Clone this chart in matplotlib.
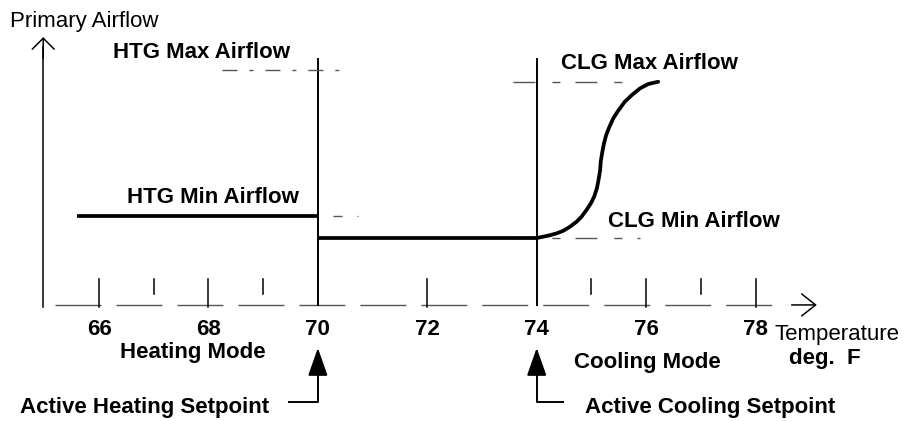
import matplotlib
matplotlib.use('Agg')
import matplotlib.pyplot as plt

# temperature scale (deg F)
tick_temps = [66, 68, 70, 72, 74, 76, 78]
tick_labels = ['66', '68', '70', '72', '74', '76', '78']
major_ticks = [66, 68, 72, 76, 78]
minor_ticks = [67, 69, 75, 77]

heat_setpoint = 70
cool_setpoint = 74

# airflow levels (% of htg max)
htg_max = 100
htg_min = 38
clg_max = 95
clg_min = 28.5

# heating mode: flat at htg min up to the heating setpoint
heat_temps = [65.6, 70]
heat_flow = [38, 38]
# deadband: flat at clg min between setpoints
dead_temps = [70, 74]
dead_flow = [28.5, 28.5]
# cooling mode ramp
cool_temps = [74.00, 74.12, 74.24, 74.37, 74.49, 74.61, 74.73, 74.82,
              74.91, 74.99, 75.05, 75.10, 75.13, 75.16, 75.17, 75.20,
              75.23, 75.27, 75.33, 75.40, 75.49, 75.61, 75.74, 75.89,
              76.04, 76.22]
cool_flow = [28.5, 29.06, 29.66, 30.51, 31.62, 33.32, 35.45, 37.57,
             40.43, 43.26, 46.09, 49.66, 53.19, 57.45, 60.98, 65.23,
             68.81, 72.34, 75.87, 79.45, 82.68, 86.51, 89.36, 92.21,
             94.04, 95.0]

# layout stuff (data units)
XLIM = (64.19, 80.75)
YLIM = (-49.4, 129.8)
FS = 16
GREY = '#555555'


def main():
    plt.rcParams['font.family'] = ['Liberation Sans', 'DejaVu Sans']
    fig = plt.figure(figsize=(9.06, 4.21), dpi=100)
    ax = fig.add_axes([0, 0, 1, 1])
    ax.set_xlim(*XLIM)
    ax.set_ylim(*YLIM)
    ax.axis('off')

    # y axis with open arrow
    ax.plot([64.98, 64.98], [-0.8, 110], color='k', lw=1.1)
    ax.annotate('', xy=(64.98, 114), xytext=(64.98, 105),
                arrowprops=dict(arrowstyle='->,head_length=0.79,head_width=0.79',
                                lw=1.1, color='k', shrinkA=0, shrinkB=0))
    ax.text(64.37, 118.3, 'Primary Airflow', fontsize=FS, ha='left',
            va='baseline')

    # x axis, dashed, with open arrow
    # NOTE: lw=1 so the dash lengths are not rescaled
    ax.plot([65.19, 78.57], [0, 0], color=GREY, lw=1.0,
            dashes=(33.1, 10.8))
    ax.annotate('', xy=(79.12, 0), xytext=(78.66, 0),
                arrowprops=dict(arrowstyle='->,head_length=1.0,head_width=0.79',
                                lw=1.1, color='k', shrinkA=0, shrinkB=0))

    # ticks
    for t in major_ticks:
        ax.plot([t, t], [-0.8, 11.1], color='k', lw=1.1)
    for t in minor_ticks:
        ax.plot([t, t], [4.7, 11.1], color='k', lw=1.1)
    for t, lab in zip(tick_temps, tick_labels):
        ax.text(t, -12.8, lab, fontsize=FS, fontweight='bold', ha='center',
                va='baseline')

    # setpoint lines
    for sp in [heat_setpoint, cool_setpoint]:
        ax.plot([sp, sp], [0, 104.7], color='k', lw=1.4)

    # dashed reference levels
    ax.plot([68.25, 70.51], [htg_max, htg_max], color=GREY, lw=1.0,
            dashes=(10.8, 8.6, 2.9, 8.6))
    ax.plot([70.28, 70.74], [htg_min, htg_min], color=GREY, lw=1.0,
            dashes=(6.5, 10.8, 1.4, 7.2))
    ax.plot([73.57, 75.61], [clg_max, clg_max], color=GREY, lw=1.0,
            dashes=(15.8, 12.2, 5.8, 10.8))
    ax.plot([73.57, 75.89], [clg_min, clg_min], color=GREY, lw=1.0,
            dashes=(15.8, 12.2, 5.8, 10.8))

    # the airflow schedule
    kw = dict(color='k', lw=2.7, solid_capstyle='butt', solid_joinstyle='round')
    ax.plot(heat_temps, heat_flow, **kw)
    ax.plot(dead_temps, dead_flow, **kw)
    ax.plot(cool_temps, cool_flow, color='k', lw=2.7, solid_capstyle='round',
            solid_joinstyle='round')

    # labels
    bold = dict(fontsize=FS, fontweight='bold', ha='left', va='baseline')
    ax.text(66.26, 105.1, 'HTG Max Airflow', **bold)
    ax.text(66.51, 43.4, 'HTG Min Airflow', **bold)
    ax.text(74.44, 100.4, 'CLG Max Airflow', **bold)
    ax.text(75.30, 33.2, 'CLG Min Airflow', **bold)
    ax.text(66.38, -22.6, 'Heating Mode', **bold)
    ax.text(74.68, -26.8, 'Cooling Mode', **bold)
    ax.text(78.35, -14.9, 'Temperature', fontsize=FS, ha='left',
            va='baseline')
    ax.text(78.61, -25.1, 'deg.  F', **bold)
    ax.text(64.55, -46.0, 'Active Heating Setpoint', **bold)
    ax.text(74.88, -46.0, 'Active Cooling Setpoint', **bold)

    # setpoint pointers (L shaped with filled head)
    head = '-|>,head_length=1.73,head_width=0.61'
    for sp, xend in [(heat_setpoint, 69.47), (cool_setpoint, 74.48)]:
        ax.plot([xend, sp, sp], [-41.3, -41.3, -28.5], color='k', lw=1.4)
        ax.annotate('', xy=(sp, -18.3), xytext=(sp, -29.0),
                    arrowprops=dict(arrowstyle=head, lw=1.4, color='k',
                                    fc='k', shrinkA=0, shrinkB=0))

    fig.savefig('out.png', dpi=100)


if __name__ == '__main__':
    main()
